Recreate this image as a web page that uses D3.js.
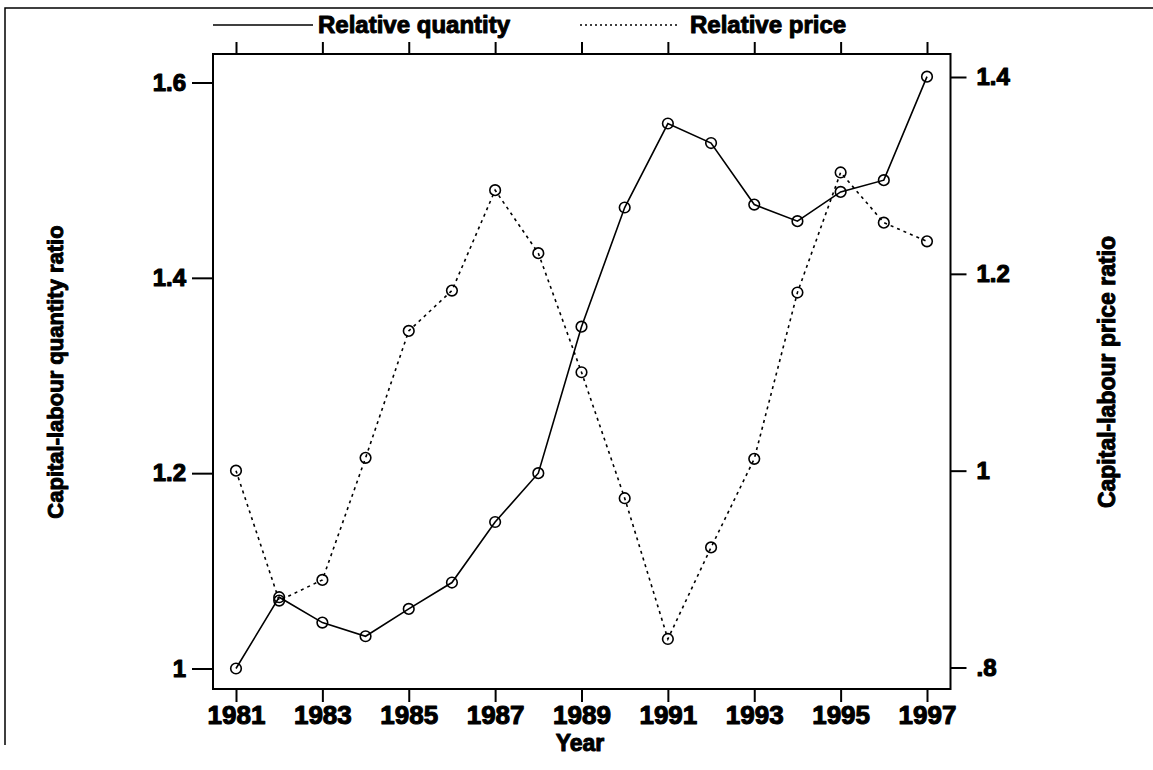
<!DOCTYPE html>
<html>
<head>
<meta charset="utf-8">
<script src="https://cdn.jsdelivr.net/npm/d3@7/dist/d3.min.js"></script>
<style>
  html, body { margin: 0; padding: 0; background: #fff; }
  svg text { font-family: "Liberation Sans", Arial, Helvetica, sans-serif; font-weight: bold; fill: #000; }
</style>
</head>
<body>
<svg id="chart" width="1153" height="770"></svg>
<script>
const years = [1981,1982,1983,1984,1985,1986,1987,1988,1989,1990,1991,1992,1993,1994,1995,1996,1997];
const relQuantity = [1.000,1.073,1.047,1.033,1.061,1.088,1.150,1.200,1.350,1.472,1.558,1.538,1.475,1.458,1.488,1.500,1.606];
const relPrice = [1.000,0.868,0.889,1.013,1.142,1.183,1.285,1.221,1.100,0.972,0.829,0.922,1.012,1.181,1.303,1.252,1.233];
const xTicks = [1981,1983,1985,1987,1989,1991,1993,1995,1997];
const leftTicks = [1,1.2,1.4,1.6];
const leftTickLabels = ["1","1.2","1.4","1.6"];
const rightTicks = [0.8,1,1.2,1.4];
const rightTickLabels = [".8","1","1.2","1.4"];
const seriesNames = ["Relative quantity","Relative price"];

const svg = d3.select("#chart");
const frame = {left: 213, right: 950.5, top: 54, bottom: 689};

const x = d3.scaleLinear().domain([1981,1997]).range([236,927]);
const yL = d3.scaleLinear().domain([1,1.6]).range([668.5,82.5]);
const yR = d3.scaleLinear().domain([0.8,1.4]).range([667.5,77]);

// outer border
svg.append("path").attr("d","M5,745 L5,8 L1153,8").attr("fill","none").attr("stroke","#000").attr("stroke-width",1.5);

// frame
svg.append("rect").attr("x",frame.left).attr("y",frame.top)
  .attr("width",frame.right-frame.left).attr("height",frame.bottom-frame.top)
  .attr("fill","none").attr("stroke","#000").attr("stroke-width",2);

function styleAxis(g, size){
  g.select(".domain").remove();
  g.selectAll(".tick line").attr("stroke","#000").attr("stroke-width",2);
  g.selectAll(".tick text").attr("font-size",size).attr("fill","#000")
    .attr("stroke","#000").attr("stroke-width",1.1).attr("stroke-linejoin","round")
    .attr("font-family","'Liberation Sans', Arial, sans-serif").attr("font-weight","bold");
}

// bottom axis
const gB = svg.append("g").attr("transform",`translate(0,${frame.bottom})`)
  .call(d3.axisBottom(x).tickValues(xTicks).tickFormat(d3.format("d")).tickSize(13).tickPadding(4));
styleAxis(gB, 26);

// top axis (ticks only)
const gT = svg.append("g").attr("transform",`translate(0,${frame.top})`)
  .call(d3.axisTop(x).tickValues(xTicks).tickFormat("").tickSize(12));
styleAxis(gT, 10);

// left axis
const gL = svg.append("g").attr("transform",`translate(${frame.left},0)`)
  .call(d3.axisLeft(yL).tickValues(leftTicks).tickFormat((d,i)=>leftTickLabels[i]).tickSize(21).tickPadding(6));
styleAxis(gL, 24);

// right axis
const gR = svg.append("g").attr("transform",`translate(${frame.right},0)`)
  .call(d3.axisRight(yR).tickValues(rightTicks).tickFormat((d,i)=>rightTickLabels[i]).tickSize(16).tickPadding(10));
styleAxis(gR, 24);

// axis titles
function boldText(sel){ return sel.attr("stroke","#000").attr("stroke-width",1).attr("stroke-linejoin","round"); }
boldText(svg.append("text").attr("x",580).attr("y",751).attr("text-anchor","middle").attr("font-size",23).text("Year"));
boldText(svg.append("text").attr("transform","translate(63,372) rotate(-90)").attr("text-anchor","middle").attr("font-size",22).text("Capital-labour quantity ratio"));
boldText(svg.append("text").attr("transform","translate(1115,372) rotate(-90)").attr("text-anchor","middle").attr("font-size",23).text("Capital-labour price ratio"));

// lines
const lineQ = d3.line().x((d,i)=>x(years[i])).y(d=>yL(d));
const lineP = d3.line().x((d,i)=>x(years[i])).y(d=>yR(d));
svg.append("path").datum(relQuantity).attr("d",lineQ).attr("fill","none").attr("stroke","#000").attr("stroke-width",1.6);
svg.append("path").datum(relPrice).attr("d",lineP).attr("fill","none").attr("stroke","#000").attr("stroke-width",1.6).attr("stroke-dasharray","3,4");

// markers
svg.append("g").selectAll("circle").data(relQuantity).join("circle")
  .attr("cx",(d,i)=>x(years[i])).attr("cy",d=>yL(d)).attr("r",5.3)
  .attr("fill","none").attr("stroke","#000").attr("stroke-width",1.6);
svg.append("g").selectAll("circle").data(relPrice).join("circle")
  .attr("cx",(d,i)=>x(years[i])).attr("cy",d=>yR(d)).attr("r",5.3)
  .attr("fill","none").attr("stroke","#000").attr("stroke-width",1.6);

// legend
const legend = [
  {name: seriesNames[0], x1: 213, x2: 313, tx: 318, dash: null},
  {name: seriesNames[1], x1: 580, x2: 680, tx: 690, dash: "2,3"}
];
legend.forEach(l=>{
  svg.append("line").attr("x1",l.x1).attr("x2",l.x2).attr("y1",25).attr("y2",25)
    .attr("stroke","#000").attr("stroke-width",1.5).attr("stroke-dasharray",l.dash);
  boldText(svg.append("text").attr("x",l.tx).attr("y",33).attr("font-size",24).text(l.name));
});
</script>
</body>
</html>
